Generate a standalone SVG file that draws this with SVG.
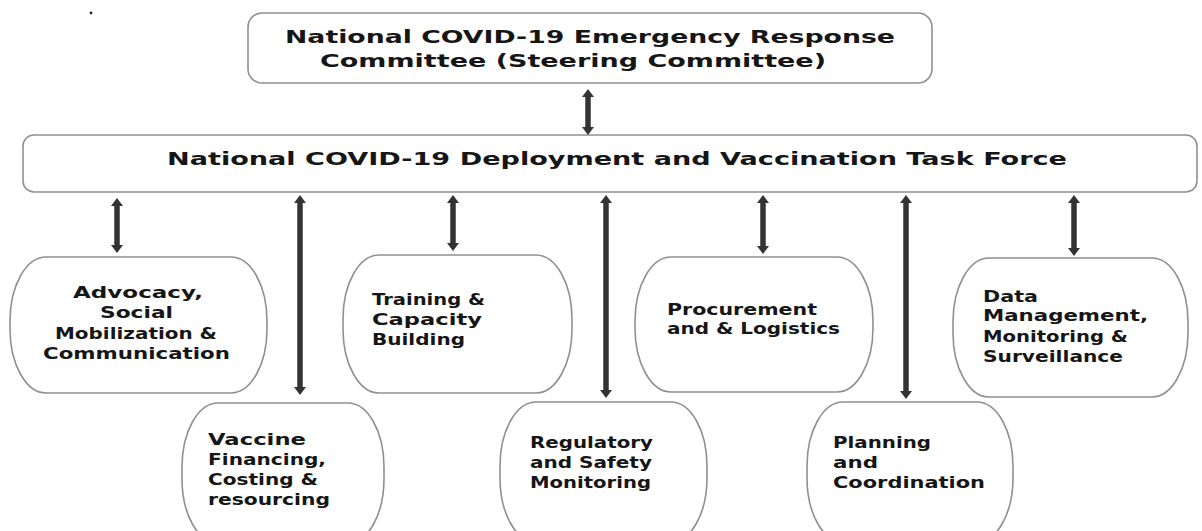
<svg xmlns="http://www.w3.org/2000/svg" width="1202" height="531" viewBox="0 0 1202 531">
<style>
.box{fill:#fff;stroke:#909090;stroke-width:1.6}
.t{font-family:"DejaVu Sans",sans-serif;font-weight:bold;fill:#161616}
.big{font-size:18px}
.mid{font-size:17px}
.sm{font-size:15px}
.arr{stroke:#333;stroke-width:5.5;fill:none;marker-start:url(#ah);marker-end:url(#ah)}
</style>
<defs>
<marker id="ah" markerUnits="userSpaceOnUse" markerWidth="10" markerHeight="14" refX="1" refY="7" orient="auto-start-reverse" viewBox="0 0 10 14">
<path d="M0,1 L8,7 L0,13 Z" fill="#333"/>
</marker>
</defs>
<rect width="1202" height="531" fill="#fff"/>
<circle cx="91" cy="13" r="1.4" fill="#222"/>

<g id="steering">
<rect class="box" x="248" y="13" width="684" height="70" rx="14" ry="14"/>
<text class="t big" x="285" y="43" textLength="610" lengthAdjust="spacingAndGlyphs">National COVID-19 Emergency Response</text>
<text class="t big" x="320" y="67" textLength="506" lengthAdjust="spacingAndGlyphs">Committee (Steering Committee)</text>
</g>

<g id="taskforce">
<rect class="box" x="23" y="135" width="1174" height="57" rx="11" ry="11"/>
<text class="t mid" x="167" y="165" textLength="900" lengthAdjust="spacingAndGlyphs">National COVID-19 Deployment and Vaccination Task Force</text>
</g>

<g id="advocacy">
<rect class="box" x="10" y="257" width="257" height="136" rx="36" ry="64"/>
<text class="t sm" x="73" y="298" textLength="130" lengthAdjust="spacingAndGlyphs">Advocacy,</text>
<text class="t sm" x="100" y="318" textLength="73" lengthAdjust="spacingAndGlyphs">Social</text>
<text class="t sm" x="55" y="339" textLength="162" lengthAdjust="spacingAndGlyphs">Mobilization &amp;</text>
<text class="t sm" x="43" y="359" textLength="187" lengthAdjust="spacingAndGlyphs">Communication</text>
</g>

<g id="vaccine">
<rect class="box" x="182" y="403" width="202" height="140" rx="36" ry="64"/>
<text class="t sm" x="208" y="445" textLength="98" lengthAdjust="spacingAndGlyphs">Vaccine</text>
<text class="t sm" x="208" y="465" textLength="118" lengthAdjust="spacingAndGlyphs">Financing,</text>
<text class="t sm" x="208" y="485" textLength="110" lengthAdjust="spacingAndGlyphs">Costing &amp;</text>
<text class="t sm" x="208" y="505" textLength="122" lengthAdjust="spacingAndGlyphs">resourcing</text>
</g>

<g id="training">
<rect class="box" x="343" y="255" width="229" height="138" rx="36" ry="64"/>
<text class="t sm" x="372" y="305" textLength="113" lengthAdjust="spacingAndGlyphs">Training &amp;</text>
<text class="t sm" x="372" y="325" textLength="110" lengthAdjust="spacingAndGlyphs">Capacity</text>
<text class="t sm" x="372" y="345" textLength="93" lengthAdjust="spacingAndGlyphs">Building</text>
</g>

<g id="regulatory">
<rect class="box" x="500" y="402" width="207" height="140" rx="36" ry="64"/>
<text class="t sm" x="530" y="448" textLength="123" lengthAdjust="spacingAndGlyphs">Regulatory</text>
<text class="t sm" x="530" y="468" textLength="122" lengthAdjust="spacingAndGlyphs">and Safety</text>
<text class="t sm" x="530" y="488" textLength="121" lengthAdjust="spacingAndGlyphs">Monitoring</text>
</g>

<g id="procurement">
<rect class="box" x="635" y="257" width="238" height="135" rx="36" ry="64"/>
<text class="t sm" x="667" y="315" textLength="150" lengthAdjust="spacingAndGlyphs">Procurement</text>
<text class="t sm" x="667" y="334" textLength="173" lengthAdjust="spacingAndGlyphs">and &amp; Logistics</text>
</g>

<g id="planning">
<rect class="box" x="807" y="402" width="206" height="140" rx="36" ry="64"/>
<text class="t sm" x="833" y="448" textLength="98" lengthAdjust="spacingAndGlyphs">Planning</text>
<text class="t sm" x="833" y="468" textLength="45" lengthAdjust="spacingAndGlyphs">and</text>
<text class="t sm" x="833" y="488" textLength="152" lengthAdjust="spacingAndGlyphs">Coordination</text>
</g>

<g id="data">
<rect class="box" x="953" y="258" width="235" height="139" rx="36" ry="64"/>
<text class="t sm" x="983" y="302" textLength="55" lengthAdjust="spacingAndGlyphs">Data</text>
<text class="t sm" x="983" y="321" textLength="165" lengthAdjust="spacingAndGlyphs">Management,</text>
<text class="t sm" x="983" y="342" textLength="145" lengthAdjust="spacingAndGlyphs">Monitoring &amp;</text>
<text class="t sm" x="983" y="362" textLength="140" lengthAdjust="spacingAndGlyphs">Surveillance</text>
</g>

<g id="connectors">
<line class="arr" x1="588" y1="96" x2="588" y2="128"/>
<line class="arr" x1="117" y1="205" x2="117" y2="246"/>
<line class="arr" x1="300" y1="202" x2="300" y2="388"/>
<line class="arr" x1="453" y1="202" x2="453" y2="244"/>
<line class="arr" x1="606" y1="202" x2="606" y2="391"/>
<line class="arr" x1="763" y1="202" x2="763" y2="247"/>
<line class="arr" x1="906" y1="202" x2="906" y2="392"/>
<line class="arr" x1="1074" y1="202" x2="1074" y2="249"/>
</g>
</svg>
